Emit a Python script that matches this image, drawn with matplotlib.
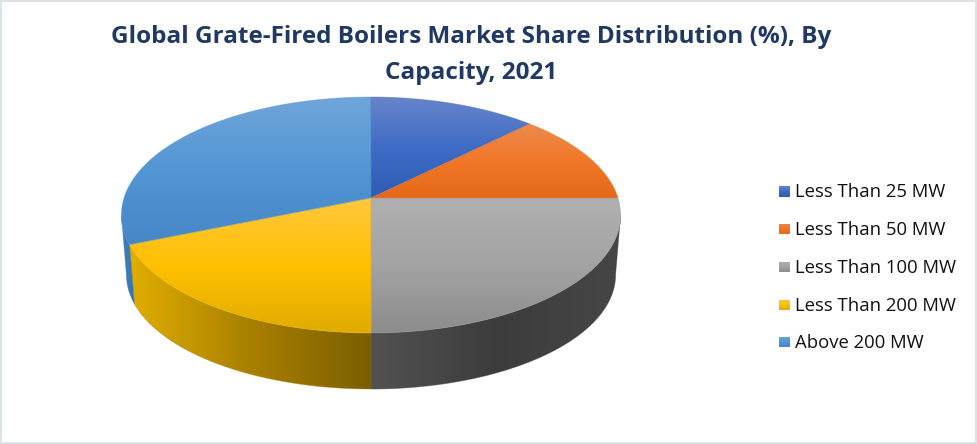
import numpy as np
import matplotlib
matplotlib.use("Agg")
import matplotlib.pyplot as plt
from matplotlib.patches import PathPatch, Rectangle
from matplotlib.path import Path

# values
categories = ["Less Than 25 MW", "Less Than 50 MW", "Less Than 100 MW", "Less Than 200 MW", "Above 200 MW"]
shares = [12.5, 12.5, 25.0, 18.75, 31.25]
title_lines = ["Global Grate-Fired Boilers Market Share Distribution (%), By", "Capacity, 2021"]

# gradient stops per slice, light top to dark bottom
top_colors = [
    [(104, 132, 202), (62, 108, 198), (47, 92, 178)],
    [(238, 138, 78), (241, 120, 40), (228, 104, 24)],
    [(176, 176, 176), (163, 163, 163), (140, 140, 140)],
    [(255, 200, 62), (255, 192, 0), (224, 172, 0)],
    [(112, 165, 218), (82, 150, 212), (70, 134, 198)],
]
wall_colors = [
    [(47, 85, 151), (47, 85, 151)],
    [(197, 90, 17), (197, 90, 17)],
    [(82, 82, 82), (60, 60, 60), (70, 70, 70)],
    [(226, 174, 0), (168, 128, 0), (124, 94, 0)],
    [(66, 128, 190), (52, 118, 178)],
]

# projection of the unit circle to pixels (a, b, c, k)
CX = 371
TOP_PLANE = (-87.0, 198.0, 0.144, 247.0)
BOTTOM_PLANE = (-74.4, 258.6, 0.144, 242.0)


def project(theta, plane):
    a, b, c, k = plane
    u, v = np.sin(theta), np.cos(theta)
    w = c * v + 1
    return CX + k * u / w, (a * v + b) / w


def gradient(stops, vertical=True):
    stops = np.array(stops, dtype=float) / 255
    t = np.linspace(0, 1, 256)
    pos = np.linspace(0, 1, len(stops))
    rows = np.stack([np.interp(t, pos, stops[:, i]) for i in range(3)], axis=-1)
    return rows[:, None, :] if vertical else rows[None, :, :]


def fill(ax, verts, stops, vertical=True, zorder=2, outline=True):
    """Polygon filled with a linear gradient over its bounding box."""
    verts = np.asarray(verts)
    closed = np.vstack([verts, verts[0]])
    codes = [Path.MOVETO] + [Path.LINETO] * (len(verts) - 1) + [Path.CLOSEPOLY]
    path = Path(closed, codes)
    x0, y0 = verts.min(axis=0)
    x1, y1 = verts.max(axis=0)
    img = ax.imshow(gradient(stops, vertical), extent=(x0, x1, y1, y0), aspect="auto",
                    interpolation="bilinear", zorder=zorder)
    patch = PathPatch(path, facecolor="none", edgecolor="none", transform=ax.transData)
    ax.add_patch(patch)
    img.set_clip_path(patch)
    if outline:
        mid = np.array(stops[len(stops) // 2]) / 255
        ax.add_patch(PathPatch(path, facecolor="none", edgecolor=(*mid, 0.45), lw=0.6, zorder=zorder + 0.1))


fig = plt.figure(figsize=(9.77, 4.44), dpi=100, facecolor="white")
ax = fig.add_axes([0, 0, 1, 1])

edges = np.cumsum([0] + shares) / sum(shares) * 2 * np.pi

# WALLS, only the part that faces the viewer
side = np.arccos(-TOP_PLANE[2])
for i in range(len(shares)):
    start = max(edges[i], side)
    stop = min(edges[i + 1], 2 * np.pi - side)
    if stop <= start:
        continue
    th = np.linspace(start, stop, 200)
    ux, uy = project(th, TOP_PLANE)
    lx, ly = project(th, BOTTOM_PLANE)
    verts = np.column_stack([np.r_[ux, lx[::-1]], np.r_[uy, ly[::-1]]])
    fill(ax, verts, wall_colors[i], vertical=False, zorder=2)

# TOP FACE
for i in range(len(shares)):
    th = np.linspace(edges[i], edges[i + 1], 200)
    ux, uy = project(th, TOP_PLANE)
    verts = np.column_stack([np.r_[CX, ux], np.r_[TOP_PLANE[1], uy]])
    fill(ax, verts, top_colors[i], zorder=3)

# LEGEND
legend_y = [191.5, 229, 267, 305, 342]
for i, name in enumerate(categories):
    y = legend_y[i]
    fill(ax, [(779, y - 5.5), (790, y - 5.5), (790, y + 5.5), (779, y + 5.5)], top_colors[i],
         zorder=3, outline=False)
    ax.text(795, y + 0.5, name, fontsize=13.3, family="Open Sans", color="#111111", va="center", ha="left")

# TITLE
for line, y in zip(title_lines, [37, 73]):
    ax.text(471.5, y, line, fontsize=17.45, family="Open Sans", fontweight="bold", color="#1f3864",
            ha="center", va="center")

# BORDER
ax.add_patch(Rectangle((0, 0), 977, 444, facecolor="none", edgecolor="#dee3ea", lw=2.9, zorder=5))

ax.set_xlim(0, 977)
ax.set_ylim(444, 0)
ax.axis("off")

fig.savefig("out.png", dpi=100)
